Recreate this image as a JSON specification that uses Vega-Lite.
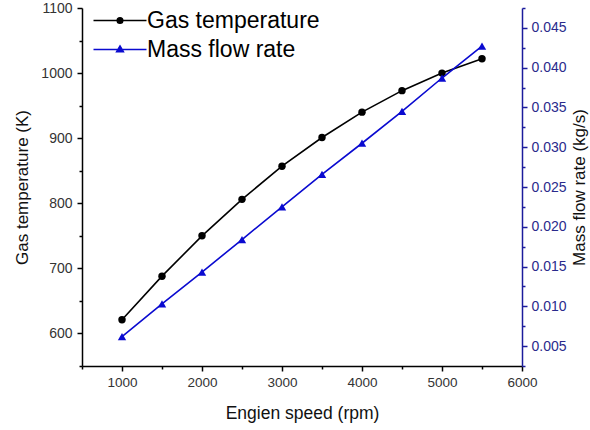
{
  "$schema": "https://vega.github.io/schema/vega-lite/v6.json",
  "width": 440,
  "height": 358,
  "autosize": {"type": "none"},
  "padding": {"left": 82, "top": 8, "right": 68, "bottom": 64},
  "background": "white",
  "config": {
    "view": {"stroke": null},
    "font": "Liberation Sans",
    "axis": {"grid": false, "labelFlush": false, "labelOverlap": false, "domainWidth": 1.5, "tickWidth": 1.5, "labelFont": "Liberation Sans", "titleFont": "Liberation Sans", "titleFontWeight": "normal"}
  },
  "data": {
    "values": [
      {"speed": 1000, "series": "Gas temperature", "value": 621},
      {"speed": 1500, "series": "Gas temperature", "value": 688},
      {"speed": 2000, "series": "Gas temperature", "value": 750},
      {"speed": 2500, "series": "Gas temperature", "value": 806},
      {"speed": 3000, "series": "Gas temperature", "value": 857},
      {"speed": 3500, "series": "Gas temperature", "value": 901},
      {"speed": 4000, "series": "Gas temperature", "value": 940},
      {"speed": 4500, "series": "Gas temperature", "value": 973},
      {"speed": 5000, "series": "Gas temperature", "value": 1000},
      {"speed": 5500, "series": "Gas temperature", "value": 1022},
      {"speed": 1000, "series": "Mass flow rate", "value": 0.0062},
      {"speed": 1500, "series": "Mass flow rate", "value": 0.0103},
      {"speed": 2000, "series": "Mass flow rate", "value": 0.0143},
      {"speed": 2500, "series": "Mass flow rate", "value": 0.0184},
      {"speed": 3000, "series": "Mass flow rate", "value": 0.0225},
      {"speed": 3500, "series": "Mass flow rate", "value": 0.0266},
      {"speed": 4000, "series": "Mass flow rate", "value": 0.0305},
      {"speed": 4500, "series": "Mass flow rate", "value": 0.0345},
      {"speed": 5000, "series": "Mass flow rate", "value": 0.0387},
      {"speed": 5500, "series": "Mass flow rate", "value": 0.0427}
    ]
  },
  "encoding": {
    "x": {
      "field": "speed", "type": "quantitative",
      "scale": {"domain": [500, 6000], "nice": false, "zero": false},
      "axis": {
        "title": "Engien speed (rpm)",
        "values": [500, 1000, 1500, 2000, 2500, 3000, 3500, 4000, 4500, 5000, 5500, 6000],
        "labelExpr": "datum.value % 1000 === 0 ? datum.value : ''",
        "tickSize": {"condition": {"test": "datum.value % 1000 === 0", "value": 5}, "value": 3},
        "domainColor": "black", "tickColor": "black",
        "labelColor": "#333333", "labelFontSize": 13.5, "labelPadding": 4,
        "titleFontSize": 17.5, "titleColor": "#111111", "titlePadding": 16
      }
    }
  },
  "layer": [
    {
      "transform": [{"filter": "datum.series === 'Gas temperature'"}],
      "encoding": {
        "y": {
          "field": "value", "type": "quantitative",
          "scale": {"domain": [550, 1100], "nice": false, "zero": false},
          "axis": {
            "title": "Gas temperature (K)",
            "orient": "left",
            "values": [550, 600, 650, 700, 750, 800, 850, 900, 950, 1000, 1050, 1100],
            "labelExpr": "datum.value % 100 === 0 ? datum.value : ''",
            "tickSize": {"condition": {"test": "datum.value % 100 === 0", "value": 5}, "value": 3},
            "domainColor": "black", "tickColor": "black",
            "labelColor": "#333333", "labelFontSize": 14, "labelPadding": 5,
            "titleFontSize": 17, "titleColor": "#111111", "titlePadding": 9
          }
        }
      },
      "layer": [
        {
          "mark": {"type": "line", "strokeWidth": 1.6},
          "encoding": {
            "color": {
              "field": "series", "type": "nominal",
              "scale": {"domain": ["Gas temperature", "Mass flow rate"], "range": ["#000000", "#0a0ad0"]},
              "legend": {
                "orient": "none", "legendX": 26.5, "legendY": 1,
                "title": null, "labelFontSize": 23, "labelFont": "Liberation Sans", "labelColor": "#000000", "labelLimit": 400,
                "symbolSize": 400, "labelOffset": 15.5, "rowPadding": 5, "padding": 0,
                "symbolStrokeWidth": 1.5,
                "encoding": {
                  "symbols": {
                    "shape": {"value": {"expr": "datum.value === 'Gas temperature' ? 'M-2.65,0H2.65M0.28,0A0.28,0.28,0,1,1,-0.28,0A0.28,0.28,0,1,1,0.28,0Z' : 'M-2.65,0H2.65M0,-0.36L0.34,0.22L-0.34,0.22Z'"}},
                    "fill": {"value": {"expr": "scale('color', datum.value)"}},
                    "stroke": {"value": {"expr": "scale('color', datum.value)"}},
                    "strokeWidth": {"value": 1.5}
                  }
                }
              }
            }
          }
        },
        {
          "mark": {"type": "point", "shape": "circle", "filled": true, "size": 55, "color": "#000000", "opacity": 1}
        }
      ]
    },
    {
      "transform": [{"filter": "datum.series === 'Mass flow rate'"}],
      "encoding": {
        "y": {
          "field": "value", "type": "quantitative",
          "scale": {"domain": [0.0025, 0.0475], "nice": false, "zero": false},
          "axis": {
            "title": "Mass flow rate (kg/s)",
            "orient": "right",
            "values": [0.0025, 0.005, 0.0075, 0.01, 0.0125, 0.015, 0.0175, 0.02, 0.0225, 0.025, 0.0275, 0.03, 0.0325, 0.035, 0.0375, 0.04, 0.0425, 0.045, 0.0475],
            "labelExpr": "abs(round(datum.value * 200) - datum.value * 200) < 0.01 ? format(datum.value, '.3f') : ''",
            "tickSize": {"condition": {"test": "abs(round(datum.value * 200) - datum.value * 200) < 0.01", "value": 5}, "value": 3},
            "domainColor": "#1c1c9c", "tickColor": "#1c1c9c",
            "labelColor": "#2a2a8c", "labelFontSize": 14, "labelPadding": 4,
            "titleFontSize": 17, "titleColor": "#111111", "titlePadding": 5, "titleAngle": 270, "titleBaseline": "top"
          }
        }
      },
      "layer": [
        {
          "mark": {"type": "line", "strokeWidth": 1.6},
          "encoding": {
            "color": {"field": "series", "type": "nominal"}
          }
        },
        {
          "mark": {"type": "point", "shape": "triangle-up", "filled": true, "size": 70, "color": "#0a0ad0", "opacity": 1}
        }
      ]
    }
  ],
  "resolve": {"scale": {"y": "independent"}}
}
